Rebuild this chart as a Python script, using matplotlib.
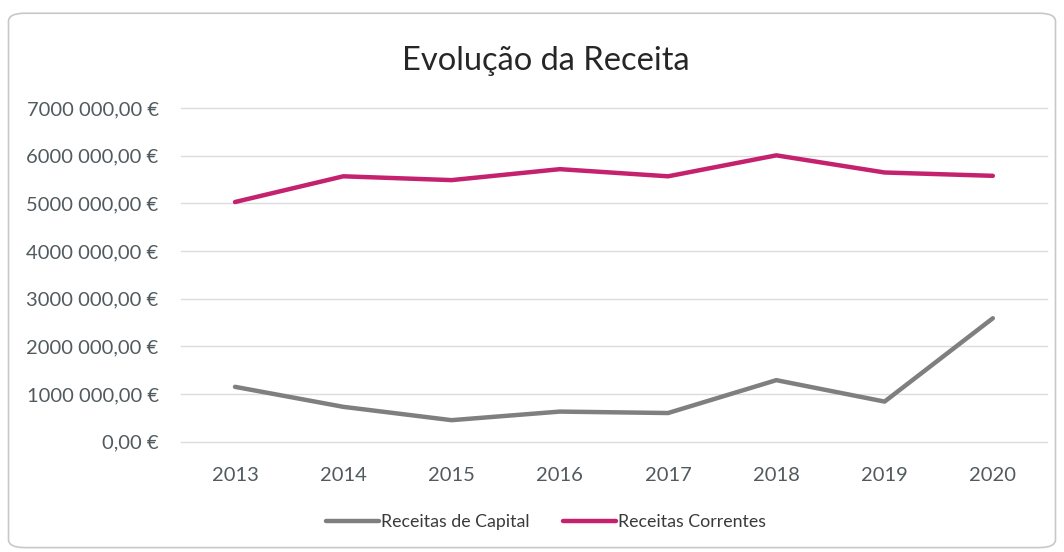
import matplotlib
matplotlib.use("Agg")
import matplotlib.pyplot as plt
from matplotlib.patches import FancyBboxPatch

anos = ["2013", "2014", "2015", "2016", "2017", "2018", "2019", "2020"]
receitas_capital = [1150000, 730000, 450000, 630000, 600000, 1290000, 840000, 2590000]
receitas_correntes = [5030000, 5570000, 5490000, 5720000, 5570000, 6010000, 5650000, 5580000]
y_ticks = [0, 1000000, 2000000, 3000000, 4000000, 5000000, 6000000, 7000000]
y_labels = ["0,00 €", "1000 000,00 €", "2000 000,00 €", "3000 000,00 €",
            "4000 000,00 €", "5000 000,00 €", "6000 000,00 €", "7000 000,00 €"]

plt.rcParams["font.family"] = ["Lato", "DejaVu Sans"]

fig = plt.figure(figsize=(10.64, 5.52), dpi=100)
border = FancyBboxPatch((0.008, 0.008), 0.984, 0.968, boxstyle="round,pad=0,rounding_size=0.015",
                        transform=fig.transFigure, facecolor="white", edgecolor="#c8c8c8",
                        linewidth=1.2, zorder=-10)
fig.add_artist(border)

ax = fig.add_axes([0.170, 0.200, 0.814, 0.604])
ax.set_facecolor("none")
ax.set_zorder(1)
x = range(len(anos))
ax.plot(x, receitas_capital, color="#7f7f7f", linewidth=3.2, label="Receitas de Capital",
        solid_capstyle="round")
ax.plot(x, receitas_correntes, color="#c4226e", linewidth=3.2, label="Receitas Correntes",
        solid_capstyle="round")

ax.set_xlim(-0.5, len(anos) - 0.5)
ax.set_ylim(0, 7000000)
ax.set_yticks(y_ticks)
ax.set_yticklabels(y_labels)
ax.set_xticks(list(x))
ax.set_xticklabels(anos)
ax.tick_params(axis="both", length=0, labelsize=14.5, colors="#505a5f")
ax.tick_params(axis="x", pad=18)
ax.tick_params(axis="y", pad=16)
ax.grid(axis="y", color="#dcdcdc", linewidth=1)
for gl in ax.get_ygridlines():
    gl.set_clip_on(False)
ax.set_axisbelow(True)
for s in ax.spines.values():
    s.set_visible(False)

fig.text(0.513, 0.89, "Evolução da Receita", ha="center", va="center", fontsize=23.5,
         color="#262626")

fig.legend(loc="center", bbox_to_anchor=(0.513, 0.054), ncol=2, frameon=False,
           fontsize=12.8, handlelength=3.0, handletextpad=0.1, columnspacing=1.9,
           labelcolor="#3a3a3a")

fig.savefig("out.png", dpi=100, facecolor="white")
